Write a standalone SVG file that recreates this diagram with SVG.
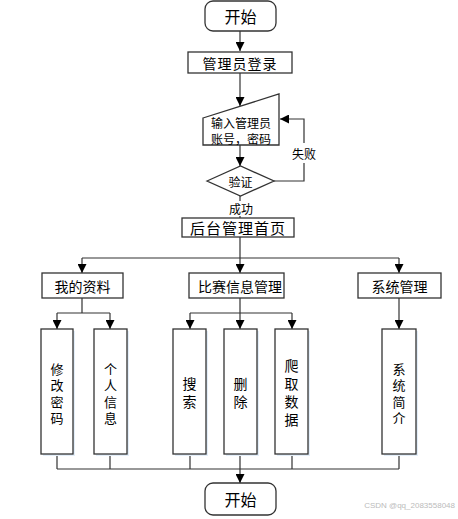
<svg xmlns="http://www.w3.org/2000/svg" width="458" height="519" viewBox="0 0 458 519">
<style>
.box{fill:#fff;stroke:#333;stroke-width:1.3}
.sh{fill:#e3eef9}
.t{font-family:"Noto Sans CJK SC","Liberation Sans",sans-serif;font-size:14px;fill:#000;text-anchor:middle;dominant-baseline:central}
.big{font-size:16px}
.c{font-family:"Liberation Sans","Noto Sans CJK SC",sans-serif;font-size:13px;fill:#000;text-anchor:middle;dominant-baseline:central}
.c2{font-size:14px}
.ln{fill:none;stroke:#333;stroke-width:1.2}
</style>
<defs>
<marker id="ar" viewBox="0 0 10 10" refX="10" refY="5" markerWidth="9" markerHeight="9" markerUnits="userSpaceOnUse" orient="auto">
<path d="M0,0 L10,5 L0,10 z" fill="#000"/>
</marker>
</defs>
<rect width="458" height="519" fill="#fff"/>
<g id="connectors">
<path class="ln" d="M240,31 V51" marker-end="url(#ar)"/>
<path class="ln" d="M240,73 V106" marker-end="url(#ar)"/>
<path class="ln" d="M240,145 V166" marker-end="url(#ar)"/>
<path class="ln" d="M274,181 H304 V119 H280" marker-end="url(#ar)"/>
<path class="ln" d="M240,196 V218"/>
<path class="ln" d="M240,237 V258 M82,258 H399"/>
<path class="ln" d="M82,258 V273" marker-end="url(#ar)"/>
<path class="ln" d="M240,258 V273" marker-end="url(#ar)"/>
<path class="ln" d="M399,258 V273" marker-end="url(#ar)"/>
<path class="ln" d="M82,298 V313 M57,313 H110"/>
<path class="ln" d="M57,313 V329" marker-end="url(#ar)"/>
<path class="ln" d="M110,313 V329" marker-end="url(#ar)"/>
<path class="ln" d="M240,298 V313 M190,313 H292"/>
<path class="ln" d="M190,313 V329" marker-end="url(#ar)"/>
<path class="ln" d="M240,313 V329" marker-end="url(#ar)"/>
<path class="ln" d="M292,313 V329" marker-end="url(#ar)"/>
<path class="ln" d="M399,298 V329" marker-end="url(#ar)"/>
<path class="ln" d="M57,454 V469 M110,454 V469 M190,454 V469 M240,454 V469 M292,454 V469 M399,454 V469 M57,469 H399"/>
<path class="ln" d="M240,469 V483" marker-end="url(#ar)"/>
<rect x="292" y="143" width="25" height="20" fill="#fff"/>
<text class="t" x="304" y="153" style="font-size:12px">失败</text>
<rect x="228" y="201" width="26" height="15" fill="#fff"/>
<text class="t" x="241" y="208" style="font-size:12px">成功</text>
</g>
<g id="start">
<rect class="box" x="205" y="1" width="71" height="30" rx="8"/>
<text class="t big" x="240.5" y="16">开始</text>
</g>
<g id="login">
<rect class="box" x="188" y="52" width="104" height="21"/>
<text class="t" x="240" y="62.5" style="letter-spacing:1px">管理员登录</text>
</g>
<g id="input">
<path class="box" d="M203,118 L279,94 V145 H203 Z"/>
<text class="c" x="241" y="124" style="font-size:12px">输入管理员</text>
<text class="c" x="241" y="140" style="font-size:12px">账号，密码</text>
</g>
<g id="verify">
<path class="box" d="M207,181 L240.5,166 L274,181 L240.5,196 Z"/>
<text class="t" x="240.5" y="181" style="font-size:12px">验证</text>
</g>
<g id="home">
<rect class="box" x="182" y="218" width="112" height="19"/>
<text class="t" x="238" y="227.5" style="font-size:15px;letter-spacing:1px">后台管理首页</text>
</g>
<g id="profile">
<rect class="box" x="42" y="273" width="81" height="25"/>
<text class="t" x="82.5" y="285.5">我的资料</text>
</g>
<g id="match">
<rect class="box" x="189" y="273" width="95" height="25"/>
<text class="t" x="240" y="285.5">比赛信息管理</text>
</g>
<g id="system">
<rect class="box" x="358" y="273" width="83" height="25"/>
<text class="t" x="399.5" y="285.5">系统管理</text>
</g>
<g id="changepwd">
<rect class="sh" x="43" y="331" width="32" height="125"/>
<rect class="box" x="41" y="329" width="32" height="125"/>
<text class="c" x="57" y="369">修</text>
<text class="c" x="57" y="385.5">改</text>
<text class="c" x="57" y="402">密</text>
<text class="c" x="57" y="418.5">码</text>
</g>
<g id="personal">
<rect class="sh" x="96" y="331" width="33" height="125"/>
<rect class="box" x="94" y="329" width="33" height="125"/>
<text class="c" x="110.5" y="369">个</text>
<text class="c" x="110.5" y="385.5">人</text>
<text class="c" x="110.5" y="402">信</text>
<text class="c" x="110.5" y="418.5">息</text>
</g>
<g id="search">
<rect class="sh" x="175" y="331" width="33" height="125"/>
<rect class="box" x="173" y="329" width="33" height="125"/>
<text class="c c2" x="189.5" y="384">搜</text>
<text class="c c2" x="189.5" y="402">索</text>
</g>
<g id="delete">
<rect class="sh" x="226" y="331" width="33" height="125"/>
<rect class="box" x="224" y="329" width="33" height="125"/>
<text class="c c2" x="240.5" y="384">删</text>
<text class="c c2" x="240.5" y="402">除</text>
</g>
<g id="crawl">
<rect class="sh" x="277" y="331" width="33" height="125"/>
<rect class="box" x="275" y="329" width="33" height="125"/>
<text class="c c2" x="291.5" y="366">爬</text>
<text class="c c2" x="291.5" y="384">取</text>
<text class="c c2" x="291.5" y="402">数</text>
<text class="c c2" x="291.5" y="420">据</text>
</g>
<g id="intro">
<rect class="sh" x="384" y="331" width="34" height="125"/>
<rect class="box" x="382" y="329" width="34" height="125"/>
<text class="c" x="399" y="369">系</text>
<text class="c" x="399" y="385.5">统</text>
<text class="c" x="399" y="402">简</text>
<text class="c" x="399" y="418.5">介</text>
</g>
<g id="end">
<rect class="box" x="205" y="483" width="71" height="32" rx="8"/>
<text class="t big" x="240.5" y="499">开始</text>
</g>
<text x="455" y="508" style="font-family:'Liberation Sans',sans-serif;font-size:8px;fill:#bbb;text-anchor:end">CSDN @qq_2083558048</text>
</svg>
